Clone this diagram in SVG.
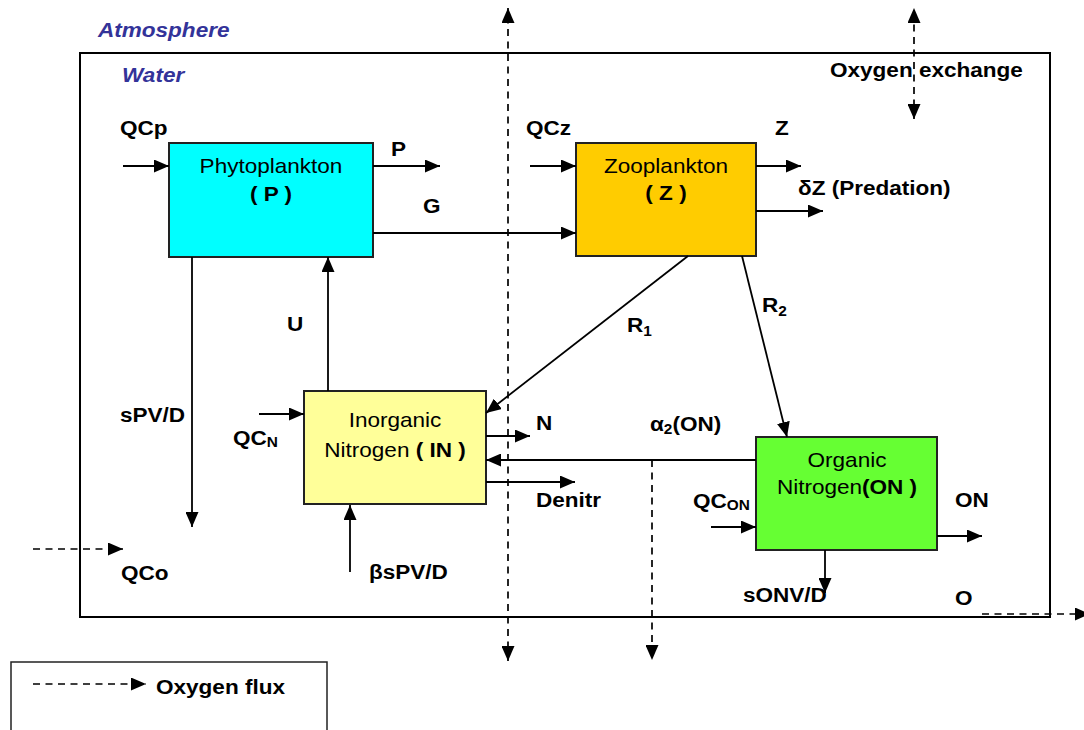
<svg xmlns="http://www.w3.org/2000/svg" width="1084" height="730" viewBox="0 0 1084 730">
<style>
.t{font-family:"Liberation Sans",Arial,sans-serif;font-size:20.5px;fill:#000}
.b{font-weight:bold}
.i{font-style:italic;font-weight:bold;fill:#333399}
.m{text-anchor:middle}
.sub{font-size:14px}
.box{stroke:#222;stroke-width:2}
.ln{stroke:#000;stroke-width:1.8;fill:none;marker-end:url(#ah)}
.dl{stroke:#000;stroke-width:1.7;fill:none;stroke-dasharray:7 5.5;marker-end:url(#ah)}
.dl2{stroke:#000;stroke-width:1.7;fill:none;stroke-dasharray:7 5.5;marker-end:url(#ah);marker-start:url(#ahs)}
</style>
<defs>
<marker id="ah" markerUnits="userSpaceOnUse" markerWidth="15" markerHeight="13" refX="15" refY="6.5" orient="auto"><path d="M0,0 L15,6.5 L0,13 z" fill="#000"/></marker>
<marker id="ahs" markerUnits="userSpaceOnUse" markerWidth="15" markerHeight="13" refX="15" refY="6.5" orient="auto-start-reverse"><path d="M0,0 L15,6.5 L0,13 z" fill="#000"/></marker>
</defs>
<rect width="1084" height="730" fill="#fff"/>

<g id="water">
<rect x="80" y="53" width="970" height="564" fill="none" stroke="#000" stroke-width="2"/>
<text class="t i" transform="translate(98 37) scale(1.1 1)">Atmosphere</text>
<text class="t i" transform="translate(122 82) scale(1.1 1)">Water</text>
</g>

<g id="legend">
<rect x="11" y="662" width="316" height="90" fill="none" stroke="#222" stroke-width="1.5"/>
<text class="t b" transform="translate(156 694) scale(1.1 1)">Oxygen flux</text>
</g>

<g id="phytoplankton">
<rect class="box" x="169" y="143" width="204" height="114" fill="#00FFFF"/>
<text class="t m" transform="translate(271 173) scale(1.1 1)">Phytoplankton</text>
<text class="t b m" transform="translate(271 201) scale(1.1 1)">( P )</text>
</g>

<g id="zooplankton">
<rect class="box" x="576" y="143" width="180" height="113" fill="#FFCC00"/>
<text class="t m" transform="translate(666 173) scale(1.1 1)">Zooplankton</text>
<text class="t b m" transform="translate(666 200) scale(1.1 1)">( Z )</text>
</g>

<g id="inorganic-nitrogen">
<rect class="box" x="304" y="391" width="182" height="113" fill="#FFFF99"/>
<text class="t m" transform="translate(395 427) scale(1.1 1)">Inorganic</text>
<text class="t m" transform="translate(395 457) scale(1.1 1)">Nitrogen <tspan class="b">( IN )</tspan></text>
</g>

<g id="organic-nitrogen">
<rect class="box" x="756" y="437" width="181" height="113" fill="#66FF33"/>
<text class="t m" transform="translate(847 467) scale(1.1 1)">Organic</text>
<text class="t m" transform="translate(847 494) scale(1.1 1)">Nitrogen<tspan class="b">(ON )</tspan></text>
</g>

<g id="connectors">
<line class="ln" x1="123" y1="166" x2="169" y2="166"/>
<line class="ln" x1="373" y1="166" x2="440" y2="166"/>
<line class="ln" x1="373" y1="233" x2="576" y2="233"/>
<line class="ln" x1="530" y1="166" x2="576" y2="166"/>
<line class="ln" x1="756" y1="166" x2="801" y2="166"/>
<line class="ln" x1="756" y1="211" x2="823" y2="211"/>
<line class="ln" x1="192" y1="257" x2="192" y2="527"/>
<line class="ln" x1="328" y1="391" x2="328" y2="257"/>
<line class="ln" x1="688" y1="256" x2="486" y2="413"/>
<line class="ln" x1="742" y1="256" x2="787" y2="437"/>
<line class="ln" x1="259" y1="414" x2="304" y2="414"/>
<line class="ln" x1="486" y1="436" x2="530" y2="436"/>
<line class="ln" x1="756" y1="460" x2="486" y2="460"/>
<line class="ln" x1="486" y1="482" x2="575" y2="482"/>
<line class="ln" x1="350" y1="572" x2="350" y2="505"/>
<line class="ln" x1="711" y1="527" x2="756" y2="527"/>
<line class="ln" x1="937" y1="536" x2="982" y2="536"/>
<line class="ln" x1="825" y1="550" x2="825" y2="593"/>
<line class="dl2" x1="508" y1="661" x2="508" y2="8"/>
<line class="dl2" x1="914" y1="119" x2="914" y2="8"/>
<line class="dl" x1="652" y1="460" x2="652" y2="660"/>
<line class="dl" x1="33" y1="549" x2="123" y2="549"/>
<line class="dl" x1="982" y1="614" x2="1090" y2="614"/>
<line class="dl" x1="33" y1="684" x2="146" y2="684"/>
</g>

<g id="labels">
<text class="t b" transform="translate(830 77) scale(1.1 1)">Oxygen exchange</text>
<text class="t b" transform="translate(120 135) scale(1.1 1)">QCp</text>
<text class="t b" transform="translate(391 156) scale(1.1 1)">P</text>
<text class="t b" transform="translate(423 213) scale(1.1 1)">G</text>
<text class="t b" transform="translate(526 135) scale(1.1 1)">QCz</text>
<text class="t b" transform="translate(775 135) scale(1.1 1)">Z</text>
<text class="t b" transform="translate(798 195) scale(1.1 1)">δZ (Predation)</text>
<text class="t b" transform="translate(287 331) scale(1.1 1)">U</text>
<text class="t b" transform="translate(627 332) scale(1.1 1)">R<tspan class="sub" dy="4">1</tspan></text>
<text class="t b" transform="translate(762 312) scale(1.1 1)">R<tspan class="sub" dy="4">2</tspan></text>
<text class="t b" transform="translate(120 422) scale(1.1 1)">sPV/D</text>
<text class="t b" transform="translate(233 445) scale(1.1 1)">QC<tspan class="sub" dy="2">N</tspan></text>
<text class="t b" transform="translate(536 430) scale(1.1 1)">N</text>
<text class="t b" transform="translate(650 431) scale(1.1 1)">α<tspan class="sub" dy="3">2</tspan><tspan dy="-3">(ON)</tspan></text>
<text class="t b" transform="translate(536 507) scale(1.1 1)">Denitr</text>
<text class="t b" transform="translate(693 508) scale(1.1 1)">QC<tspan class="sub" dy="2">ON</tspan></text>
<text class="t b" transform="translate(955 507) scale(1.1 1)">ON</text>
<text class="t b" transform="translate(369 579) scale(1.1 1)">βsPV/D</text>
<text class="t b" transform="translate(121 580) scale(1.1 1)">QCo</text>
<text class="t b" transform="translate(743 602) scale(1.1 1)">sONV/D</text>
<text class="t b" transform="translate(955 605) scale(1.1 1)">O</text>
</g>
</svg>
